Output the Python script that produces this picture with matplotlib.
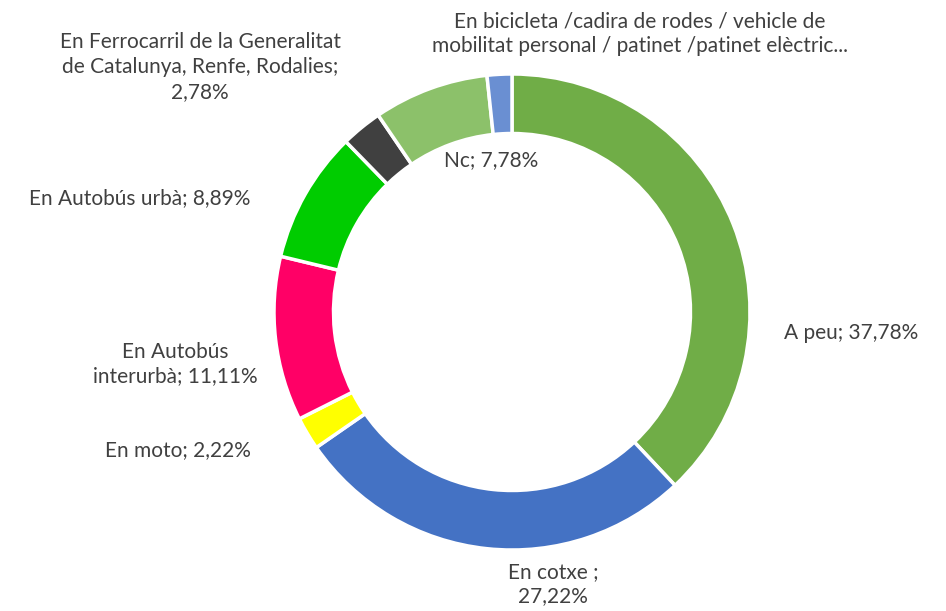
import matplotlib
matplotlib.use("Agg")
from matplotlib import pyplot as plt

# shares of each transport mode (%), clockwise from the top
modes = ["A peu", "En cotxe", "En moto", "En Autobús interurbà", "En Autobús urbà",
         "En Ferrocarril de la Generalitat de Catalunya, Renfe, Rodalies", "Nc",
         "En bicicleta /cadira de rodes / vehicle de mobilitat personal / patinet /patinet elèctric"]
shares = [37.78, 27.22, 2.22, 11.11, 8.89, 2.78, 7.78, 1.67]
colors = ["#70AD47", "#4472C4", "#FFFF00", "#FF0066", "#00CC00", "#404040", "#8CC16A", "#6A8FD2"]

# label texts as shown, with pixel anchor positions
labels = ["A peu; 37,78%", "En cotxe ;\n27,22%", "En moto; 2,22%", "En Autobús\ninterurbà; 11,11%",
          "En Autobús urbà; 8,89%",
          "En Ferrocarril de la Generalitat\nde Catalunya, Renfe, Rodalies;\n2,78%",
          "Nc; 7,78%",
          "En bicicleta /cadira de rodes / vehicle de\nmobilitat personal / patinet /patinet elèctric..."]
label_px = [(851, 333), (553, 584), (178, 450), (175, 364), (140, 198), (200, 67), (491, 160), (640, 34)]

W, H = 946, 611
fig = plt.figure(figsize=(W / 100, H / 100), dpi=100)
cx, cy, r = 512, 312, 238
ax = fig.add_axes([(cx - r) / W, (H - cy - r) / H, 2 * r / W, 2 * r / H])
ax.pie(shares, colors=colors, startangle=90, counterclock=False, radius=1,
       wedgeprops=dict(width=0.25, edgecolor="white", linewidth=2.5))
ax.set_xlim(-1, 1)
ax.set_ylim(-1, 1)
ax.set_aspect("equal")
ax.axis("off")

for txt, (x, y) in zip(labels, label_px):
    fig.text(x / W, 1 - y / H, txt, ha="center", va="center", fontsize=15,
             family=["Lato", "DejaVu Sans"], color="#404040", linespacing=1.3)

fig.savefig("out.png", dpi=100)
